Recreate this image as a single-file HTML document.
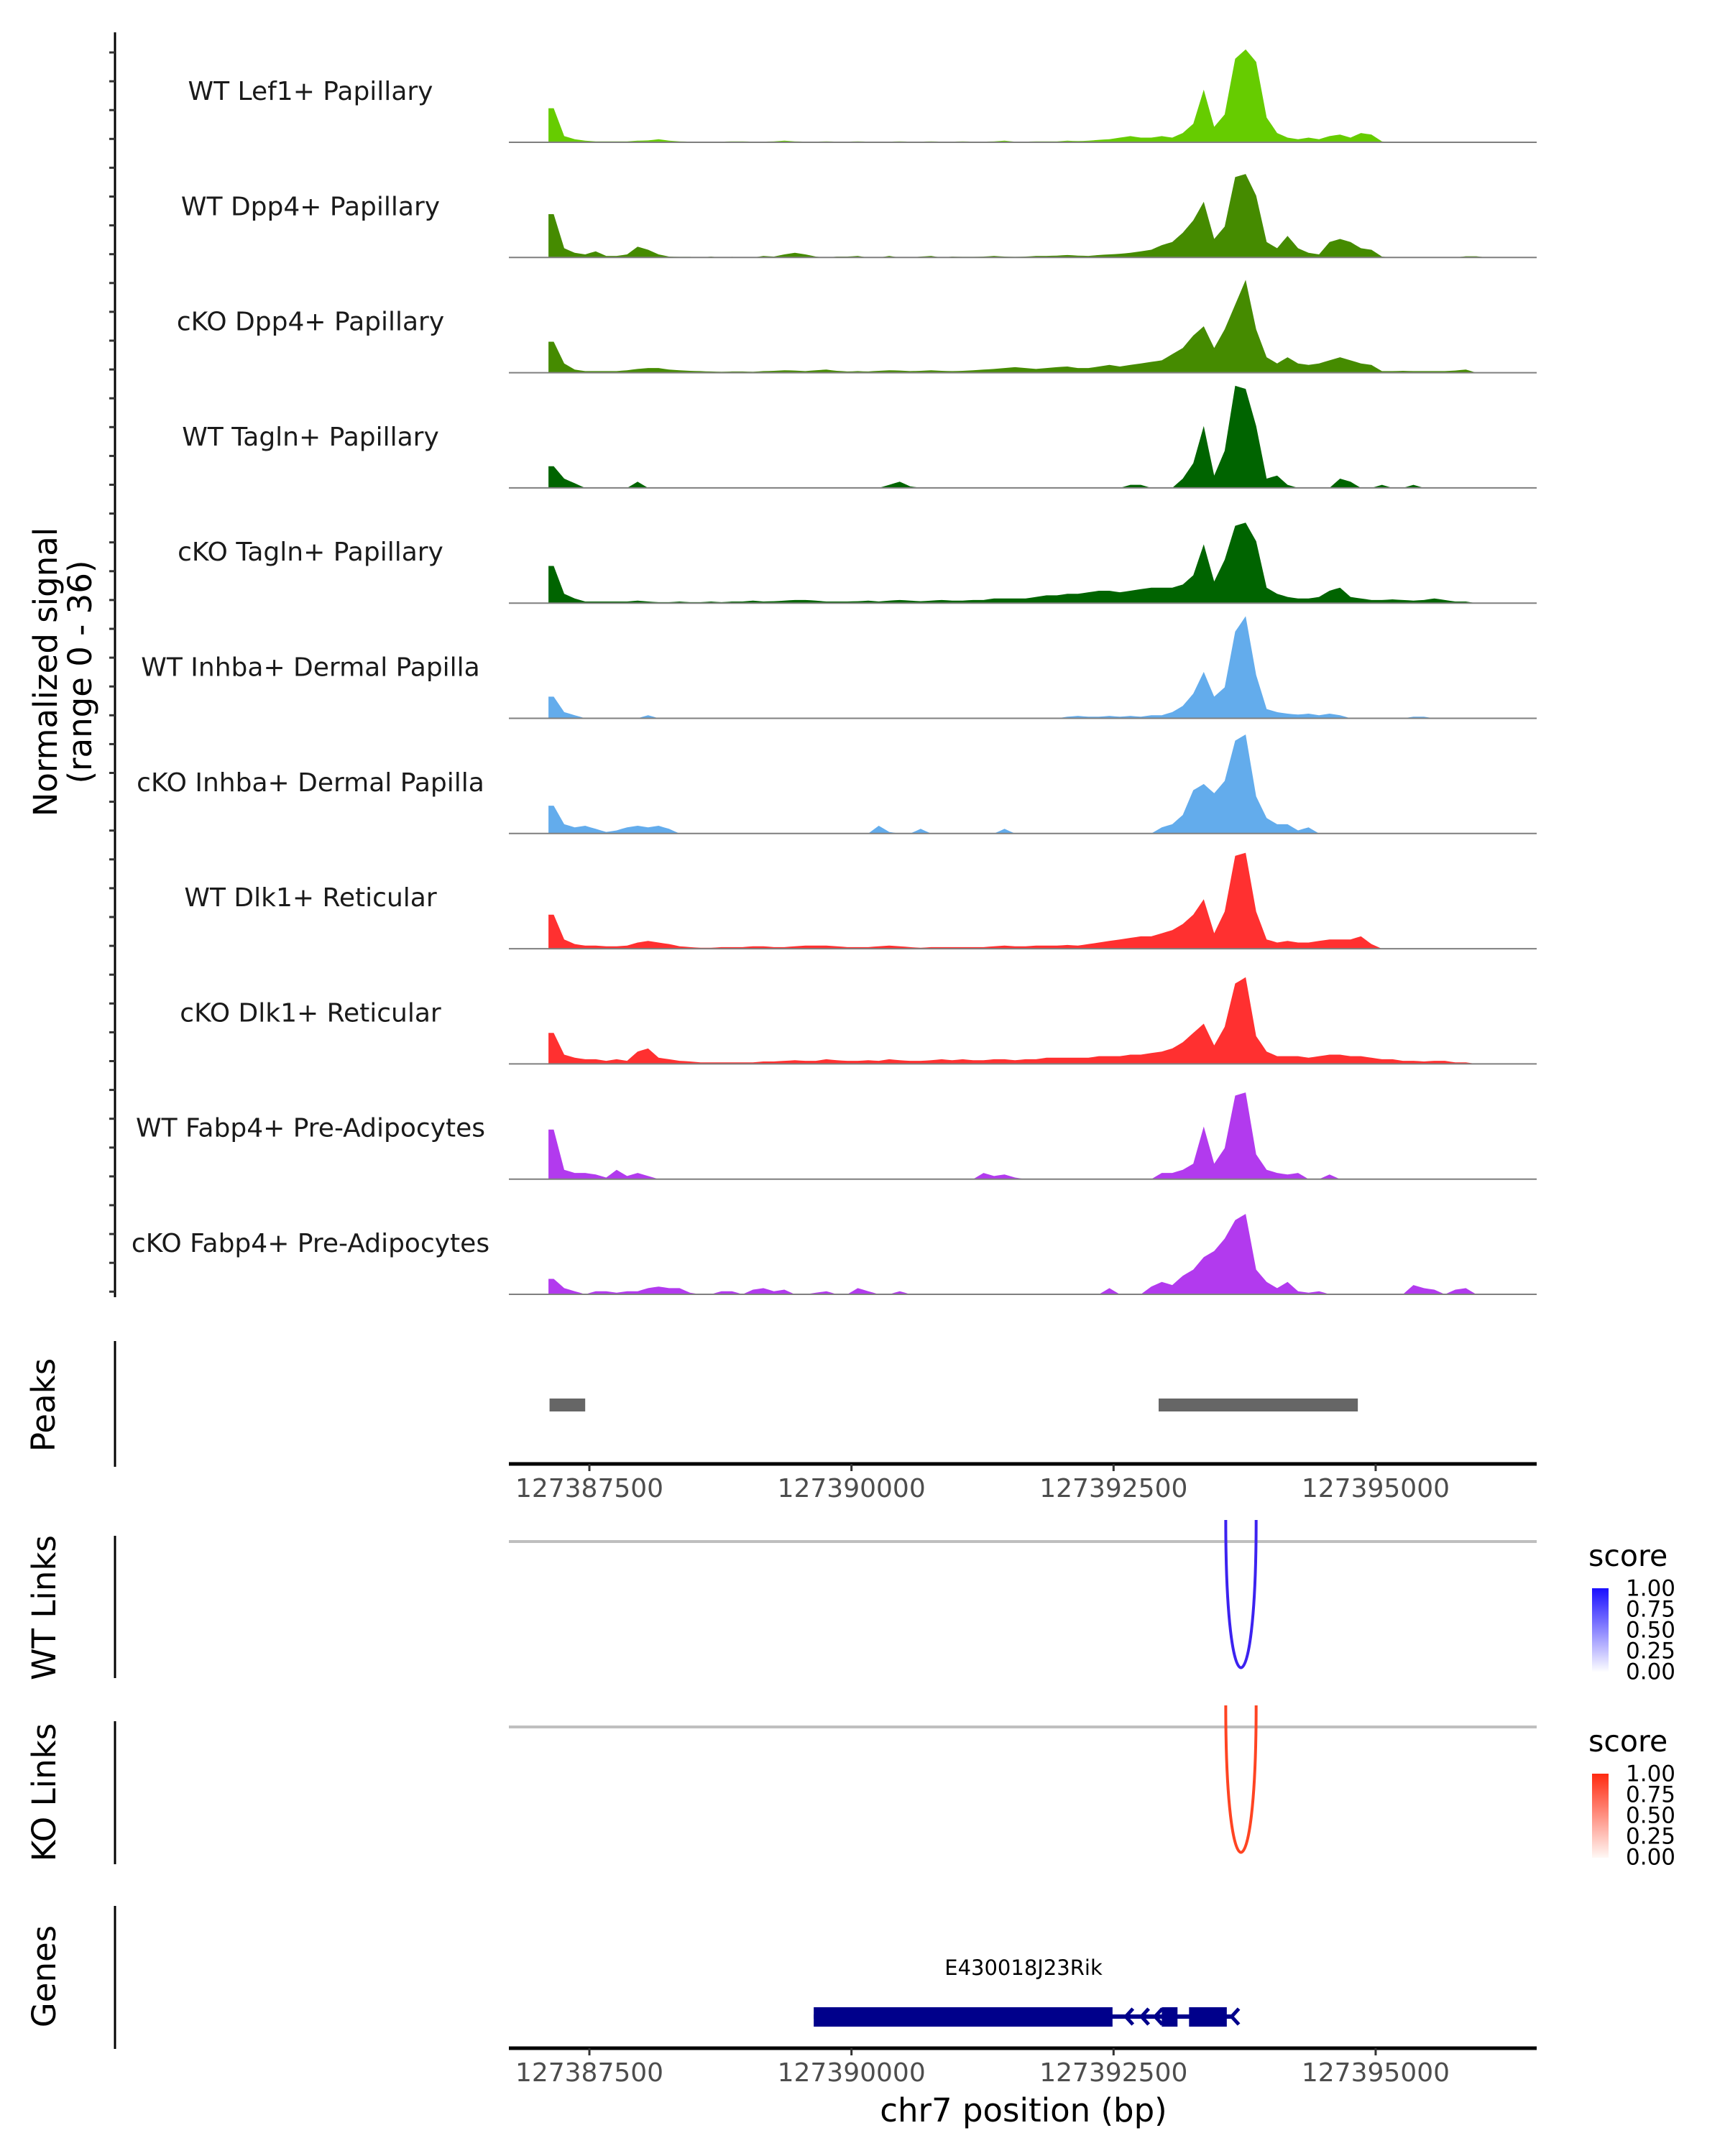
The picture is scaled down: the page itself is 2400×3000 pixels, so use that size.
<!DOCTYPE html>
<html><head><meta charset="utf-8"><style>
html,body{margin:0;padding:0;background:#fff;}
svg{display:block;font-family:"DejaVu Sans","Liberation Sans",sans-serif;}
</style></head><body>
<svg id="chart" width="2400" height="3000" viewBox="0 0 2400 3000" xmlns="http://www.w3.org/2000/svg">
<rect x="0" y="0" width="2400" height="3000" fill="#fff"/>
<g id="tracks"></g>
<line x1="160" y1="45" x2="160" y2="1805" stroke="#000" stroke-width="3"/>
<g id="yticks"></g>
<text transform="translate(67,935) rotate(-90)" text-anchor="middle" dominant-baseline="middle" font-size="45">Normalized signal</text>
<text transform="translate(115,935) rotate(-90)" text-anchor="middle" dominant-baseline="middle" font-size="45">(range 0 - 36)</text>

<line x1="160" y1="1866" x2="160" y2="2041" stroke="#000" stroke-width="3"/>
<text transform="translate(64,1955) rotate(-90)" text-anchor="middle" dominant-baseline="middle" font-size="45">Peaks</text>
<g id="peaks"></g>
<g id="axis1"></g>

<line x1="160" y1="2137" x2="160" y2="2335" stroke="#000" stroke-width="3"/>
<text transform="translate(65,2237) rotate(-90)" text-anchor="middle" dominant-baseline="middle" font-size="45">WT Links</text>
<line x1="708" y1="2145" x2="2138" y2="2145" stroke="#bfbfbf" stroke-width="4"/>
<g id="wtlinks"></g>

<line x1="160" y1="2395" x2="160" y2="2594" stroke="#000" stroke-width="3"/>
<text transform="translate(65,2494) rotate(-90)" text-anchor="middle" dominant-baseline="middle" font-size="45">KO Links</text>
<line x1="708" y1="2403" x2="2138" y2="2403" stroke="#bfbfbf" stroke-width="4"/>
<g id="kolinks"></g>

<defs>
<linearGradient id="gBlue" x1="0" y1="1" x2="0" y2="0"><stop offset="0" stop-color="#ffffff"/><stop offset="1" stop-color="#1a0fff"/></linearGradient>
<linearGradient id="gRed" x1="0" y1="1" x2="0" y2="0"><stop offset="0" stop-color="#fff8f5"/><stop offset="1" stop-color="#ff2a10"/></linearGradient>
</defs>
<g>
<text x="2210" y="2168" font-size="41" dominant-baseline="middle">score</text>
<rect x="2215" y="2210" width="23" height="117" fill="url(#gBlue)"/>
<g font-size="31" dominant-baseline="middle">
<text x="2262" y="2212">1.00</text><text x="2262" y="2241">0.75</text><text x="2262" y="2270">0.50</text><text x="2262" y="2299">0.25</text><text x="2262" y="2328">0.00</text></g>
</g>
<g>
<text x="2210" y="2426" font-size="41" dominant-baseline="middle">score</text>
<rect x="2215" y="2468" width="23" height="117" fill="url(#gRed)"/>
<g font-size="31" dominant-baseline="middle">
<text x="2262" y="2470">1.00</text><text x="2262" y="2499">0.75</text><text x="2262" y="2528">0.50</text><text x="2262" y="2557">0.25</text><text x="2262" y="2586">0.00</text></g>
</g>

<line x1="160" y1="2652" x2="160" y2="2851" stroke="#000" stroke-width="3"/>
<text transform="translate(65,2750) rotate(-90)" text-anchor="middle" dominant-baseline="middle" font-size="45">Genes</text>
<g id="genes"></g>
<g id="axis2"></g>
<text x="1424" y="2940" text-anchor="middle" dominant-baseline="middle" font-size="45">chr7 position (bp)</text>
</svg>
<script>
const trackNames = ["WT Lef1+ Papillary","WT Dpp4+ Papillary","cKO Dpp4+ Papillary","WT Tagln+ Papillary","cKO Tagln+ Papillary","WT Inhba+ Dermal Papilla","cKO Inhba+ Dermal Papilla","WT Dlk1+ Reticular","cKO Dlk1+ Reticular","WT Fabp4+ Pre-Adipocytes","cKO Fabp4+ Pre-Adipocytes"];
const binStart = 127386910;
const binSize = 100;
const lef1WT = [0,0,11,2,1,0.5,0.3,0.3,0.3,0.3, 0.5,0.6,1,0.5,0.3,0.2,0.2,0.2,0.2,0.3, 0.3,0.2,0.2,0.3,0.5,0.3,0.2,0.2,0.3,0.2, 0.2,0.3,0.2,0.2,0.2,0.3,0.2,0.2,0.3,0.2, 0.2,0.3,0.2,0.2,0.3,0.5,0.2,0.2,0.3,0.3, 0.3,0.5,0.4,0.5,0.8,1,1.5,2,1.5,1.5, 2,1.5,3,6,17,5,9,27,30,26, 8,3,1.5,1,1.5,1,2,2.5,1.5,3, 2.5,0.3,0,0,0,0.1,0,0,0,0, 0.2,0,0,0,0,0];
const dpp4WT = [0,0,14,3,1.5,1,2,0.5,0.5,1, 3.5,2.5,1,0.3,0.2,0.2,0,0.3,0,0.2, 0,0,0.5,0.3,1,1.5,1,0.3,0,0.3, 0.3,0.5,0,0,0.5,0,0,0.3,0.5,0, 0.3,0.2,0.2,0.3,0.5,0.3,0.2,0.3,0.5,0.5, 0.6,0.8,0.6,0.5,0.8,1,1.2,1.5,2,2.5, 4,5,8,12,18,6,10,26,27,20, 5,3,7,3,1.5,1,5,6,5,3, 2.5,0.3,0,0,0,0,0,0,0,0.4, 0.4,0,0,0,0,0];
const dpp4KO = [0,0,10,3,1,0.5,0.5,0.5,0.5,0.8, 1.2,1.5,1.5,1,0.8,0.6,0.5,0.4,0.3,0.4, 0.4,0.3,0.5,0.6,0.8,0.7,0.5,0.8,1,0.6, 0.4,0.5,0.4,0.6,0.8,0.7,0.5,0.6,0.8,0.6, 0.5,0.6,0.8,1,1.2,1.5,1.8,1.5,1.2,1.5, 1.8,2,1.5,1.5,2,2.5,2,2.5,3,3.5, 4,6,8,12,15,8,14,22,30,14, 5,3,5,3,2.5,3,4,5,4,3, 2.5,0.5,0.5,0.6,0.5,0.5,0.5,0.5,0.7,1, 0,0,0,0,0,0];
const taglnWT = [0,0,7,3,1.5,0,0,0,0,0, 2,0,0,0,0,0,0,0,0,0, 0,0,0,0,0,0,0,0,0,0, 0,0,0,0,1,2,0.5,0,0,0, 0,0,0,0,0,0,0,0,0,0, 0,0,0,0,0,0,0,1,1,0, 0,0,3,8,20,4,12,33,32,20, 3,4,1,0,0,0,0,3,2,0, 0,1,0,0,1,0,0,0,0,0, 0,0,0,0,0,0];
const taglnKO = [0,0,12,3,1.5,0.5,0.5,0.5,0.5,0.5, 0.8,0.5,0.3,0.3,0.5,0.3,0.3,0.5,0.3,0.5, 0.5,0.8,0.5,0.6,0.8,1,1,0.8,0.5,0.5, 0.5,0.6,0.8,0.5,0.8,1,0.8,0.6,0.8,1, 0.8,0.8,1,1,1.5,1.5,1.5,1.5,2,2.5, 2.5,3,3,3.5,4,4,3.5,4,4.5,5, 5,5,6,9,19,7,14,25,26,20, 5,3,2,1.5,1.5,2,4,5,2,1.5, 1,1,1.2,1,0.8,1,1.5,1,0.5,0.5, 0,0,0,0,0,0];
const inhbaWT = [0,0,7,2,1,0,0,0,0,0, 0,1,0,0,0,0,0,0,0,0, 0,0,0,0,0,0,0,0,0,0, 0,0,0,0,0,0,0,0,0,0, 0,0,0,0,0,0,0,0,0,0, 0,0.5,0.8,0.5,0.5,0.8,0.5,0.8,0.5,1, 1,2,4,8,15,7,10,28,33,14, 3,2,1.5,1.2,1.5,1,1.5,1,0,0, 0,0,0,0,0.5,0.5,0,0,0,0, 0,0,0,0,0,0];
const inhbaKO = [0,0,9,3,2,2.5,1.5,0.5,1,2, 2.5,2,2.5,1.5,0,0,0,0,0,0, 0,0,0,0,0,0,0,0,0,0, 0,0,0,2.5,0.5,0,0,1.5,0,0, 0,0,0,0,0,1.5,0,0,0,0, 0,0,0,0,0,0,0,0,0,0, 2,3,6,14,16,13,17,30,32,12, 5,3,3,1,2,0,0,0,0,0, 0,0,0,0,0,0,0,0,0,0, 0,0,0,0,0,0];
const dlk1WT = [0,0,11,3,1.5,1,1,0.8,0.8,1, 2,2.5,2,1.5,0.8,0.5,0.3,0.3,0.5,0.5, 0.5,0.8,0.8,0.5,0.5,0.8,1,1,1,0.8, 0.5,0.5,0.5,0.8,1,0.8,0.5,0.3,0.5,0.5, 0.5,0.5,0.5,0.5,0.8,1,0.8,0.8,1,1, 1,1.2,1,1.5,2,2.5,3,3.5,4,4, 5,6,8,11,16,5,12,30,31,12, 3,2,2.5,2,2,2.5,3,3,3,4, 1.5,0,0,0,0,0,0,0,0,0, 0,0,0,0,0,0];
const dlk1KO = [0,0,10,3,2,1.5,1.5,1,1.5,1, 4,5,2,1.5,1,0.8,0.5,0.5,0.5,0.5, 0.5,0.5,0.8,0.8,1,1.2,1,1,1.5,1.2, 1,1,1.2,1,1.5,1.2,1,1,1.2,1.5, 1.2,1.5,1.2,1.2,1.5,1.5,1.2,1.5,1.5,2, 2,2,2,2,2.5,2.5,2.5,3,3,3.5, 4,5,7,10,13,6,12,26,28,9, 4,2.5,2.5,2.5,2,2.5,3,3,2.5,2.5, 2,1.5,1.5,1,1,0.8,1,1,0.5,0.5, 0,0,0,0,0,0];
const fabp4WT = [0,0,16,3,2,2,1.5,0.5,3,1, 2,1,0,0,0,0,0,0,0,0, 0,0,0,0,0,0,0,0,0,0, 0,0,0,0,0,0,0,0,0,0, 0,0,0,2,1,1.5,0.5,0,0,0, 0,0,0,0,0,0,0,0,0,0, 2,2,3,5,17,5,10,27,28,8, 3,2,1.5,2,0,0,1.5,0,0,0, 0,0,0,0,0,0,0,0,0,0, 0,0,0,0,0,0];
const fabp4KO = [0,0,5,2,1,0,1,1,0.5,1, 1,2,2.5,2,2,0.5,0,0,1,1, 0,1.5,2,1,1.5,0,0,0.5,1,0, 0,2,1,0,0,1,0,0,0,0, 0,0,0,0,0,0,0,0,0,0, 0,0,0,0,0,2,0,0,0,2.5, 4,3,6,8,12,14,18,24,26,8, 4,2,4,1,0.5,1,0,0,0,0, 0,0,0,0,3,2,1.5,0,1.5,2, 0,0,0,0,0,0];
const trackValues = [lef1WT,dpp4WT,dpp4KO,taglnWT,taglnKO,inhbaWT,inhbaKO,dlk1WT,dlk1KO,fabp4WT,fabp4KO];
const trackColors = ["#66cc00","#458b00","#458b00","#006400","#006400","#63acec","#63acec","#ff3030","#ff3030","#b23aee","#b23aee"];
const peakStarts = [127387120, 127392930];
const peakEnds = [127387460, 127394830];
const xTicks = [127387500, 127390000, 127392500, 127395000];
const geneName = "E430018J23Rik";
const exonStarts = [127389640, 127392960, 127393220];
const exonEnds = [127392490, 127393110, 127393580];
const geneStart = 127389640;
const geneEnd = 127393640;
const intronArrows = [127392630, 127392780, 127392910];
const wtLinkStart = 127393570, wtLinkEnd = 127393860, wtScore = 0.95;
const koLinkStart = 127393570, koLinkEnd = 127393860, koScore = 0.85;

const X0 = 127386732, X1 = 127396536, PX0 = 708, PX1 = 2138;
function xs(bp){ return PX0 + (bp - X0) / (X1 - X0) * (PX1 - PX0); }
const TRACK_TOP = 198, TRACK_STEP = 160.3, TRACK_H = 155, YMAX = 36;
function ys(v, i){ return TRACK_TOP + i*TRACK_STEP - v / YMAX * TRACK_H; }
const NS = "http://www.w3.org/2000/svg";
function mk(tag, attrs, parent){ const e = document.createElementNS(NS, tag); for (const k in attrs) e.setAttribute(k, attrs[k]); parent.appendChild(e); return e; }

const tracksG = document.getElementById('tracks');
trackValues.forEach((vals, i) => {
  const base = TRACK_TOP + i*TRACK_STEP;
  const g = mk('g', {}, tracksG);
  
  
  const lab = mk('text', {x: 432, y: base - 69, 'text-anchor': 'middle', 'dominant-baseline': 'middle', 'font-size': 36, fill: '#1a1a1a'}, g);
  lab.textContent = trackNames[i];
  
  
  let d = 'M' + xs(binStart + 2*binSize).toFixed(1) + ',' + base;
  vals.forEach((v, j) => {
    if (j < 2) return;
    const bx = binStart + j*binSize;
    const xa = xs(bx), xb = xs(bx + binSize);
    const prev = j > 2 ? vals[j-1] : 0;
    d += ' L' + xa.toFixed(1) + ',' + ys(j===2 ? v : (prev+v)/2, i).toFixed(1);
    d += ' L' + (xa + (xb-xa)*0.5).toFixed(1) + ',' + ys(v, i).toFixed(1);
  });
  d += ' L' + xs(binStart + vals.length*binSize).toFixed(1) + ',' + base + ' Z';
  const p = mk('path', {d: d, fill: trackColors[i]}, g);
  
  
  const bl = mk('line', {x1: PX0, x2: PX1, y1: base, y2: base, stroke: '#7f7f7f', 'stroke-width': 2}, g);
  
  
});
const yt = document.getElementById('yticks');
for (let y = 73; y <= 1805; y += 40.1) {
  const t = mk('line', {x1: 152, x2: 160, y1: y.toFixed(1), y2: y.toFixed(1), stroke: '#333', 'stroke-width': 3}, yt);
  
  
}
const pk = document.getElementById('peaks');
peakStarts.forEach((s, i) => {
  const r = mk('rect', {x: xs(s), y: 1946, width: xs(peakEnds[i]) - xs(s), height: 18, fill: '#666'}, pk);
  
  
});
function axis(id, y){
  const g = document.getElementById(id);
  const l = mk('line', {x1: PX0, x2: PX1, y1: y, y2: y, stroke: '#000', 'stroke-width': 5}, g);
  
  
  xTicks.forEach(t => {
    const tk = mk('line', {x1: xs(t), x2: xs(t), y1: y, y2: y + 10, stroke: '#333', 'stroke-width': 3}, g);
    
    
    const tx = mk('text', {x: xs(t), y: y + 36, 'text-anchor': 'middle', 'dominant-baseline': 'middle', 'font-size': 36, fill: '#4d4d4d'}, g);
    tx.textContent = t;
    
    
  });
}
axis('axis1', 2037);
axis('axis2', 2850);
function link(id, s, e, top, bottom, color){
  const g = document.getElementById(id);
  const a = xs(s), b = xs(e);
  const cy = top + (bottom - top) / 0.75;
  const p = mk('path', {d: `M${a},${top-30} C${a},${cy} ${b},${cy} ${b},${top-30}`, fill: 'none', stroke: color, 'stroke-width': 4}, g);
  
  
}
link('wtlinks', wtLinkStart, wtLinkEnd, 2145, 2328, '#3c22f0');
link('kolinks', koLinkStart, koLinkEnd, 2403, 2585, '#ff4422');
const gg = document.getElementById('genes');
const gl = mk('line', {x1: xs(geneStart), x2: xs(geneEnd), y1: 2806, y2: 2806, stroke: '#00008b', 'stroke-width': 6}, gg);


exonStarts.forEach((s, i) => {
  const r = mk('rect', {x: xs(s), y: 2793, width: xs(exonEnds[i]) - xs(s), height: 27, fill: '#00008b'}, gg);
  
  
});
intronArrows.concat([geneEnd]).forEach(a => {
  const x = xs(a);
  const p = mk('path', {d: `M${x+8},${2795} L${x-2},${2806} L${x+8},${2817}`, fill: 'none', stroke: '#00008b', 'stroke-width': 5}, gg);
  
  
});
const gn = mk('text', {x: 1424, y: 2740, 'text-anchor': 'middle', 'dominant-baseline': 'middle', 'font-size': 29}, gg);
gn.textContent = geneName;


</script>
</body></html>
